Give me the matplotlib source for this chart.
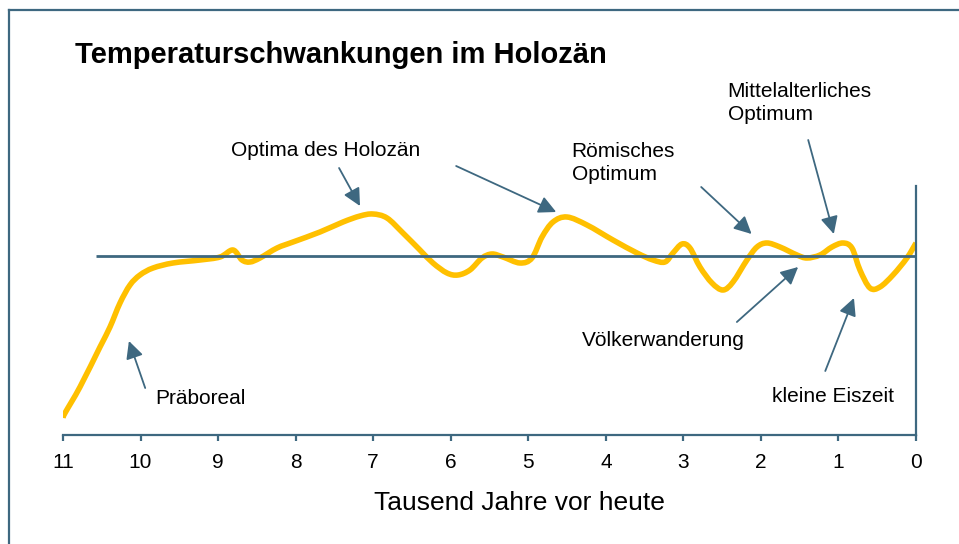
import matplotlib
matplotlib.use("Agg")
import matplotlib.pyplot as plt
import numpy as np
from matplotlib.lines import Line2D
from matplotlib.path import Path
from matplotlib.patches import PathPatch

plt.rcParams['font.family'] = ['Liberation Sans', 'DejaVu Sans']

SLATE = "#3E6880"
GOLD = "#FFC000"

# Tausend Jahre vor heute (x) and Temperaturabweichung (y, arbitrary units)
years = [11.000, 10.974, 10.781, 10.523, 10.394, 10.265, 10.136, 10.007, 9.839, 9.582,
         9.233, 8.975, 8.808, 8.692, 8.589, 8.460, 8.240, 8.034, 7.686, 7.389,
         7.170, 7.003, 6.822, 6.616, 6.397, 6.229, 6.048, 5.906, 5.752, 5.597,
         5.468, 5.326, 5.107, 4.952, 4.823, 4.681, 4.501, 4.243, 3.908, 3.598,
         3.392, 3.237, 3.134, 3.018, 2.915, 2.786, 2.631, 2.489, 2.360, 2.180,
         2.051, 1.922, 1.754, 1.535, 1.406, 1.238, 1.084, 0.942, 0.826, 0.723,
         0.594, 0.465, 0.297, 0.117, 0.000]
temps = [-1.62, -1.57, -1.31, -0.91, -0.71, -0.47, -0.29, -0.19, -0.12, -0.07,
         -0.04, -0.01, 0.06, -0.04, -0.06, -0.02, 0.08, 0.14, 0.24, 0.34,
         0.40, 0.42, 0.38, 0.23, 0.06, -0.07, -0.17, -0.19, -0.14, -0.02,
         0.02, -0.01, -0.07, -0.02, 0.19, 0.34, 0.39, 0.31, 0.16, 0.03,
         -0.04, -0.06, 0.03, 0.12, 0.08, -0.11, -0.27, -0.34, -0.26, -0.04,
         0.09, 0.13, 0.09, 0.01, -0.02, 0.01, 0.09, 0.13, 0.08, -0.14,
         -0.32, -0.31, -0.19, -0.02, 0.13]

tick_values = [11, 10, 9, 8, 7, 6, 5, 4, 3, 2, 1, 0]

# label, text position, list of (arrow tail, arrow tip)
annotations = [
    ("Optima des Holozän", (8.83, 1.06), [((7.44, 0.88), (7.17, 0.50)),
                                          ((5.93, 0.90), (4.64, 0.44))]),
    ("Römisches\nOptimum", (4.44, 0.93), [((2.77, 0.69), (2.12, 0.22))]),
    ("Mittelalterliches\nOptimum", (2.43, 1.53), [((1.39, 1.16), (1.06, 0.22))]),
    ("Völkerwanderung", (4.31, -0.84), [((2.31, -0.66), (1.52, -0.11))]),
    ("kleine Eiszeit", (1.86, -1.41), [((1.17, -1.15), (0.80, -0.42))]),
    ("Präboreal", (9.81, -1.42), [((9.94, -1.32), (10.15, -0.85))]),
]


def smooth_path(xs, ys):
    """Catmull-Rom curve through the points, as cubic Bezier segments."""
    pts = np.column_stack([xs, ys])
    padded = np.vstack([pts[0], pts, pts[-1]])
    verts = [pts[0]]
    codes = [Path.MOVETO]
    for i in range(1, len(padded) - 2):
        p0, p1, p2, p3 = padded[i - 1], padded[i], padded[i + 1], padded[i + 2]
        verts += [p1 + (p2 - p0) / 6, p2 - (p3 - p1) / 6, p2]
        codes += [Path.CURVE4] * 3
    return Path(verts, codes)


W, H = 959, 544
fig = plt.figure(figsize=(W / 100, H / 100), dpi=100)
ax = fig.add_axes([63 / W, (H - 435) / H, (916 - 63) / W, (435 - 186) / H])

ax.add_patch(PathPatch(smooth_path(years, temps), facecolor="none",
                       edgecolor=GOLD, lw=4, capstyle="butt", joinstyle="round",
                       zorder=2))
ax.hlines(0, 10.57, 0, color=SLATE, lw=2, zorder=3)

ax.set_xlim(11, 0)
ax.set_ylim(-1.79, 0.70)

for side in ["left", "top"]:
    ax.spines[side].set_visible(False)
for side in ["bottom", "right"]:
    ax.spines[side].set_color(SLATE)
    ax.spines[side].set_linewidth(1.6)

ax.set_yticks([])
ax.set_xticks(tick_values)
ax.set_xticklabels([str(t) for t in tick_values])
ax.tick_params(axis="x", direction="out", length=4, width=1.6, color=SLATE,
               pad=9, labelsize=15)

arrow_kw = dict(arrowstyle="-|>,head_length=0.7,head_width=0.35",
                mutation_scale=15, color=SLATE, lw=1.3, shrinkA=0, shrinkB=0)

for label, (tx, ty), arrows in annotations:
    ax.text(tx, ty, label, fontsize=15, ha="left", va="center",
            linespacing=1.3, clip_on=False)
    for tail, tip in arrows:
        ax.annotate("", xy=tip, xytext=tail, arrowprops=arrow_kw)

fig.text(75 / W, 1 - 63 / H, "Temperaturschwankungen im Holozän",
         fontsize=21, fontweight="bold", ha="left", va="baseline")
fig.text(519 / W, 1 - 503 / H, "Tausend Jahre vor heute",
         fontsize=19, ha="center", va="center")

# frame round the picture (only top and left edges are inside the image)
fig.add_artist(Line2D([9 / W, 9 / W], [0, 1 - 10 / H], color=SLATE, lw=1.6))
fig.add_artist(Line2D([9 / W, 1], [1 - 10 / H, 1 - 10 / H], color=SLATE, lw=1.6))

fig.savefig("out.png", dpi=100)
